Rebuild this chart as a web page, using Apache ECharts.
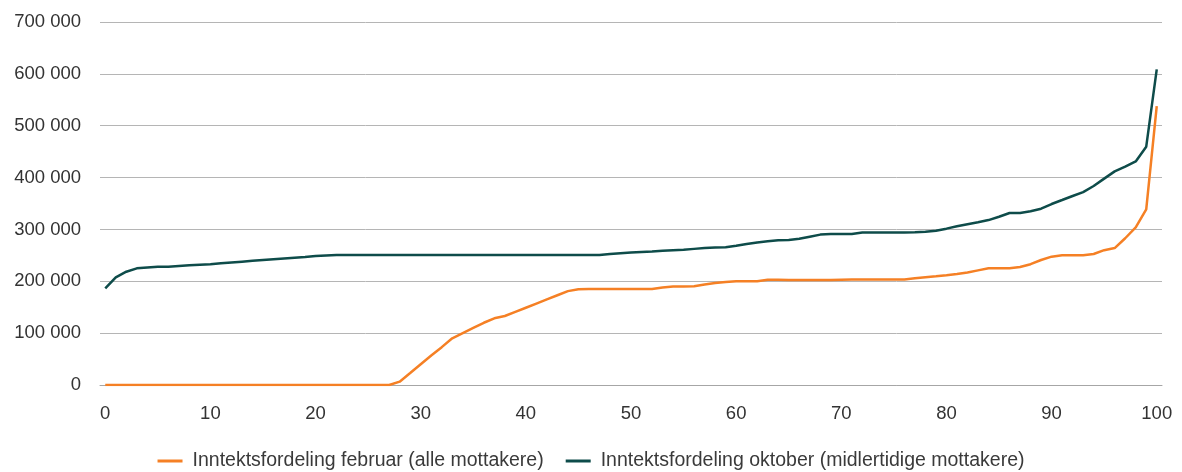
<!DOCTYPE html>
<html>

<head>
	<meta charset="UTF-8" />
	<title></title>
	<style type="text/css">
		* {
			margin: 0;
			padding: 0;
		}

		#main {
			width: 1182px;
			height: 472px;
			background-color: #fff;
		}
	</style>
</head>

<body>
	<div id="main"></div>
</body>
<script src="https://cdn.jsdelivr.net/npm/echarts@6/dist/echarts.min.js"></script>
<script type="text/javascript">
	// persentil 0-100
	var percentiles = []
	for (var i = 0; i <= 100; i++) percentiles.push(String(i))

	var seriesNames = ['Inntektsfordeling februar (alle mottakere)', 'Inntektsfordeling oktober (midlertidige mottakere)']

	// februar (alle mottakere)
	var februar = [
		0, 0, 0, 0, 0, 0, 0, 0, 0, 0,
		0, 0, 0, 0, 0, 0, 0, 0, 0, 0,
		0, 0, 0, 0, 0, 0, 0, 0, 6400, 23000,
		40000, 57000, 73000, 90000, 100000, 110000, 120000, 128600, 133000, 141000,
		149000, 157000, 165000, 173000, 181000, 184500, 185000, 185000, 185000, 185000,
		185000, 185000, 185000, 188000, 190000, 190000, 190500, 194000, 196700, 198500,
		200000, 200000, 200000, 203000, 203000, 202500, 202500, 202500, 202500, 202500,
		203000, 203500, 203500, 203500, 203500, 203500, 203500, 205700, 207600, 209500,
		211500, 214000, 217000, 221000, 225000, 225000, 225000, 227500, 233000, 241000,
		247500, 250000, 250000, 250000, 252600, 260000, 264000, 283000, 304000, 338700,
		538000
	]

	// oktober (midlertidige mottakere)
	var oktober = [
		186500, 207700, 218500, 225000, 226500, 228000, 228000, 229500, 231000, 232000,
		233000, 234600, 236200, 237800, 239400, 241000, 242500, 244000, 245500, 247000,
		248700, 249800, 250500, 250500, 250500, 250500, 250500, 250500, 250500, 250500,
		250500, 250500, 250500, 250500, 250500, 250500, 250500, 250500, 250500, 250500,
		250500, 250500, 250500, 250500, 250500, 250500, 250500, 250500, 252500, 254000,
		255500, 256500, 257500, 259000, 260000, 261000, 262500, 264000, 265000, 265500,
		268500, 272000, 275000, 277000, 279000, 279600, 282000, 286000, 290000, 291000,
		291000, 291000, 294000, 294000, 294000, 294000, 294000, 294500, 295600, 297600,
		301500, 306000, 310000, 313700, 318000, 324500, 331700, 331700, 335000, 340000,
		349000, 356700, 364500, 372000, 383700, 398000, 412000, 421000, 431000, 459600,
		608800
	]

	var colors = ['#f58025', '#0e4c4a']

	var myChart = echarts.init(document.getElementById('main'))

	var option = {
		backgroundColor: '#fff',
		animation: false,
		color: colors,
		textStyle: {
			fontFamily: 'Liberation Sans, Arial, sans-serif'
		},
		grid: {
			left: 100,
			right: 20,
			top: 22,
			bottom: 87
		},
		legend: {
			top: 451,
			left: 'center',
			padding: 0,
			icon: 'rect',
			itemWidth: 25,
			itemHeight: 3,
			itemGap: 22,
			textStyle: {
				fontSize: 19.5,
				color: '#3a3a3a',
				padding: [0, 0, 0, 5]
			},
			data: seriesNames
		},
		xAxis: {
			type: 'category',
			boundaryGap: true,
			data: percentiles,
			axisLine: {
				show: true,
				lineStyle: { color: '#a6a6a6', width: 1 }
			},
			axisTick: { show: false },
			axisLabel: {
				interval: 9,
				fontSize: 18.5,
				color: '#333',
				margin: 19
			},
			splitLine: { show: false }
		},
		yAxis: {
			type: 'value',
			min: 0,
			max: 700000,
			interval: 100000,
			axisLine: { show: false },
			axisTick: { show: false },
			axisLabel: {
				fontSize: 18.5,
				color: '#333',
				margin: 19,
				formatter: function (v) {
					return String(v).replace(/\B(?=(\d{3})+(?!\d))/g, ' ')
				}
			},
			splitLine: {
				lineStyle: { color: '#b5b5b5', width: 1 }
			}
		},
		series: [{
			name: seriesNames[0],
			type: 'line',
			data: februar,
			symbol: 'none',
			lineStyle: { width: 2.5, color: colors[0] },
			itemStyle: { color: colors[0] }
		}, {
			name: seriesNames[1],
			type: 'line',
			data: oktober,
			symbol: 'none',
			lineStyle: { width: 2.5, color: colors[1] },
			itemStyle: { color: colors[1] }
		}]
	}
	myChart.setOption(option)
</script>

</html>
